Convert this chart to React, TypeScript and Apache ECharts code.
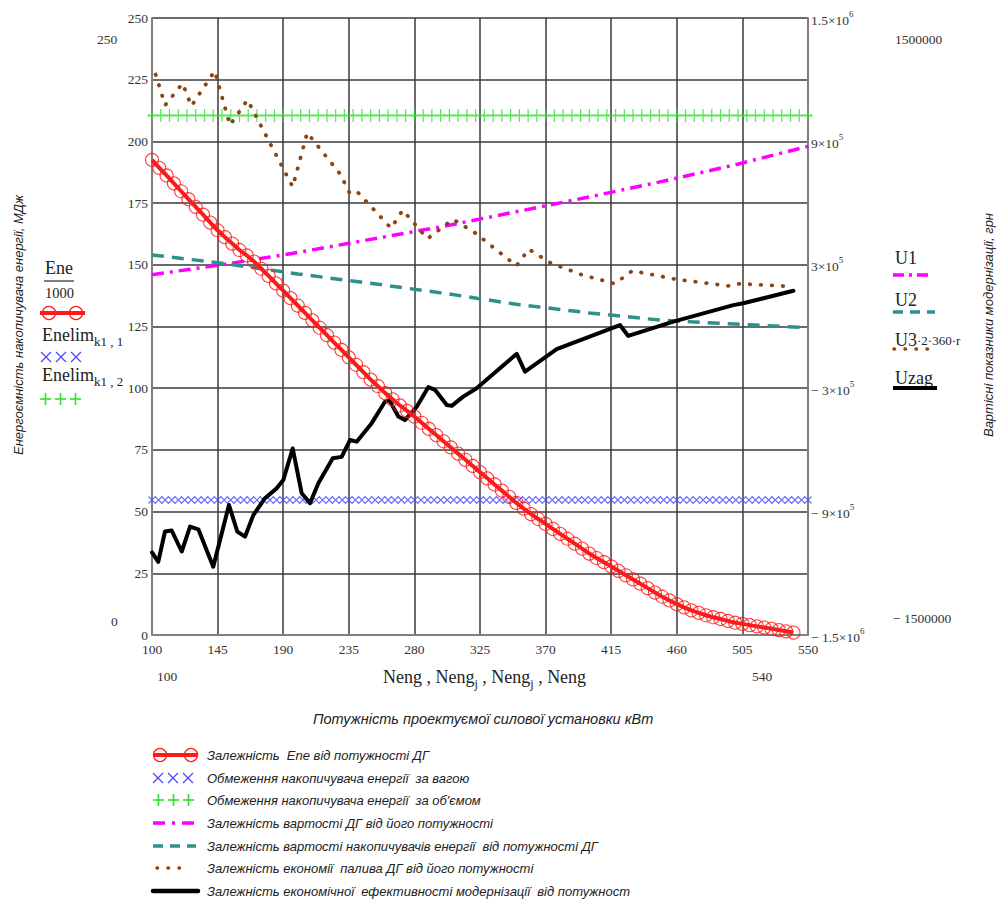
import React, { useEffect, useRef } from "react";
import * as echarts from "echarts";

// ---- data ----
// x axis: installed power of the diesel generator, kW
const xMin = 100;
const xMax = 550;
const xStep = 45;

// Ene/1000 (MJ) sampled every 5 kW from 100 to 540
const eneStartN = 100;
const eneStepN = 5;
const eneValues = [
  192.5, 189.3, 186.2, 183, 179.8, 176.6, 173.5, 170.3, 167.1, 164,
  161.2, 158.6, 156, 153.8, 151.3, 148.4, 145.5, 142.5, 139.5, 136.5,
  133.5, 130.5, 127.5, 124.5, 121.5, 118.5, 115.5, 112.5, 109.5, 106.5,
  103.5, 100.8, 98, 95.5, 93, 90.8, 88.5, 86, 83.5, 81,
  78.5, 76, 73.5, 71, 68.5, 66, 63.5, 61, 58.5, 56,
  53.5, 51.2, 49, 47, 45, 43, 41, 39, 37, 35,
  33, 31.2, 29.5, 27.8, 26, 24.2, 22.5, 20.8, 19, 17.2,
  15.5, 14, 12.5, 11.2, 10, 9, 8, 7.2, 6.5, 5.7,
  5, 4.5, 4, 3.5, 3, 2.5, 2, 1.5, 1,
];

// storage limits (MJ)
const enelimWeight = 54.7;
const enelimVolume = 210.5;
const weightMarkStepN = 4.5;
const volumeMarkStepN = 6;

// costs, UAH (right axis)
const uN = [100, 150, 200, 250, 300, 350, 400, 450, 500, 550];
const u1 = [252000, 302400, 360000, 423600, 487200, 558000, 630000, 705600, 786000, 876000];
const u2 = [348000, 306000, 255600, 210000, 162000, 108000, 66000, 30000, 12000, -6000];

const u3N = [102.5, 109, 121, 127, 143, 153.5, 165.5, 196.5, 206.5, 229, 236, 241.5, 264, 272, 289, 306.5, 321.5, 350, 358.5, 373, 395, 417.5, 429.5, 459, 496, 503, 540];
const u3 = [1225000, 1076000, 1182000, 1072000, 1242000, 979000, 1102000, 679000, 942000, 742000, 643000, 650000, 478000, 566000, 427000, 521000, 456000, 295000, 376000, 311000, 251000, 208000, 271000, 230000, 197000, 208000, 194000];

const uzagN = [100, 104.3, 108.9, 113.5, 120.4, 126.1, 131.8, 142, 152.8, 158.5, 163.8, 169.5, 177.5, 185.5, 190.1, 196.5, 202.7, 208.4, 214.1, 224, 230.1, 235.8, 240.4, 250.7, 259.8, 262.8, 269, 273.5, 281.6, 289.5, 294.1, 302.2, 305.6, 313.5, 322.7, 350.2, 355.9, 377.6, 421, 426.7, 457.6, 498.8, 505.6, 540];
const uzag = [-1098000, -1144000, -997000, -992000, -1094000, -973000, -986000, -1168000, -868000, -997000, -1022000, -917000, -835000, -787000, -746000, -593000, -811000, -859000, -762000, -641000, -634000, -552000, -560000, -470000, -366000, -358000, -438000, -455000, -390000, -295000, -308000, -382000, -386000, -341000, -300000, -133000, -220000, -110000, 7000, -46000, 24000, 104000, 113000, 174000];

const legendTexts = [
  "Залежність  Ene від потужності ДГ",
  "Обмеження накопичувача енергії  за вагою",
  "Обмеження накопичувача енергії  за об'ємом",
  "Залежність вартості ДГ від його потужності",
  "Залежність вартості накопичувачів енергії  від потужності ДГ",
  "Залежність економії  палива ДГ від його потужності",
  "Залежність економічної  ефективності модернізації  від потужност",
];

const serif = "'Liberation Serif','Times New Roman',serif";
const sans = "'Liberation Sans',Arial,sans-serif";

const C_RED = "#ff1a1a";
const C_BLUE = "#4b4bff";
const C_GREEN = "#2ee02e";
const C_MAG = "#ff00ff";
const C_TEAL = "#2f8f8a";
const C_BROWN = "#8a4512";
const C_BLACK = "#000000";

function supLabel(v: number): string {
  const sign = v < 0 ? "− " : "";
  const a = Math.abs(v);
  const e = Math.floor(Math.log10(a) + 1e-9);
  const m = Math.round((a / Math.pow(10, e)) * 100) / 100;
  return `{n|${sign}${m}×10}{s|${e}}`;
}

export default function App() {
  const ref = useRef<HTMLDivElement>(null);

  useEffect(() => {
    if (!ref.current) return;
    const chart = echarts.init(ref.current, null, { renderer: "svg" });

    const eneData = eneValues.map((v, i) => [eneStartN + i * eneStepN, v]);
    const marks = (step: number) =>
      Array.from({ length: Math.floor((xMax - xMin) / step + 1e-6) + 1 }, (_, i) => xMin + i * step);
    const lim1 = marks(weightMarkStepN).map((n) => [n, enelimWeight]);
    const lim2 = marks(volumeMarkStepN).map((n) => [n, enelimVolume]);
    const u1Data = uN.map((n, i) => [n, u1[i]]);
    const u2Data = uN.map((n, i) => [n, u2[i]]);
    const u3Data = u3N.map((n, i) => [n, u3[i]]);
    const uzagData = uzagN.map((n, i) => [n, uzag[i]]);

    const splitLine = { show: true, lineStyle: { color: "#3a3a3a", width: 1.5 } };
    const axisLine = { show: true, lineStyle: { color: "#808080", width: 2 } };

    const txt = (x: number, y: number, text: string, font: string, extra: any = {}) => ({
      type: "text",
      x,
      y,
      silent: true,
      style: { text, font, fill: "#222", textVerticalAlign: "middle", ...extra },
    });
    const seg = (x1: number, y1: number, x2: number, y2: number, stroke: string, lineWidth: number) => ({
      type: "line",
      silent: true,
      shape: { x1, y1, x2, y2 },
      style: { stroke, lineWidth },
    });
    const crosses = (x0: number, y: number, out: any[]) => {
      for (let k = 0; k < 3; k++) {
        const cx = x0 + 5 + k * 15;
        out.push(seg(cx - 5, y - 5, cx + 5, y + 5, C_BLUE, 1.3));
        out.push(seg(cx + 5, y - 5, cx - 5, y + 5, C_BLUE, 1.3));
      }
    };
    const pluses = (x0: number, y: number, out: any[]) => {
      for (let k = 0; k < 3; k++) {
        const cx = x0 + 5.5 + k * 15;
        out.push(seg(cx - 5.5, y, cx + 5.5, y, C_GREEN, 1.6));
        out.push(seg(cx, y - 6, cx, y + 6, C_GREEN, 1.6));
      }
    };

    const legendRowY = [755, 778, 800, 823, 846, 868, 891];
    const graphic: any[] = [];

    // Mathcad limit labels
    graphic.push(txt(97, 39, "250", `13.5px ${serif}`, { fill: "#333" }));
    graphic.push(txt(111, 621, "0", `13.5px ${serif}`, { fill: "#333" }));
    graphic.push(txt(157, 676, "100", `13.5px ${serif}`, { fill: "#333" }));
    graphic.push(txt(752, 676, "540", `13.5px ${serif}`, { fill: "#333" }));
    graphic.push(txt(895, 39, "1500000", `13.5px ${serif}`, { fill: "#333" }));
    graphic.push(txt(893, 618, "− 1500000", `13.5px ${serif}`, { fill: "#333" }));

    // axis titles
    graphic.push({
      type: "text",
      x: 18,
      y: 325,
      rotation: Math.PI / 2,
      silent: true,
      style: {
        text: "Енергоємність накопичувача енергії, МДж",
        font: `italic 13px ${sans}`,
        fill: "#222",
        textAlign: "center",
        textVerticalAlign: "middle",
      },
    });
    graphic.push({
      type: "text",
      x: 988,
      y: 325,
      rotation: Math.PI / 2,
      silent: true,
      style: {
        text: "Вартісні показники модернізації, грн",
        font: `italic 13px ${sans}`,
        fill: "#222",
        textAlign: "center",
        textVerticalAlign: "middle",
      },
    });
    graphic.push({
      type: "text",
      x: 383,
      y: 679,
      silent: true,
      style: {
        text: "{a|Neng , Neng}{j|j}{a| , Neng}{j|j}{a| , Neng}",
        rich: {
          a: { font: `18px ${serif}`, fill: "#222", verticalAlign: "top", lineHeight: 22 },
          j: { font: `12px ${serif}`, fill: "#222", verticalAlign: "bottom", lineHeight: 22 },
        },
        textVerticalAlign: "middle",
      },
    });
    graphic.push(
      txt(313, 719, "Потужність проектуємої силової установки кВт", `italic 14.5px ${sans}`)
    );

    // left legend
    graphic.push(txt(45, 268, "Ene", `18px ${serif}`));
    graphic.push(seg(44, 281, 74, 281, "#555", 1.5));
    graphic.push(txt(45, 293, "1000", `14.5px ${serif}`));
    graphic.push(seg(40, 313, 85, 313, C_RED, 4));
    graphic.push({ type: "circle", silent: true, shape: { cx: 49, cy: 313, r: 6.5 }, style: { fill: "none", stroke: C_RED, lineWidth: 1.3 } });
    graphic.push({ type: "circle", silent: true, shape: { cx: 76, cy: 313, r: 6.5 }, style: { fill: "none", stroke: C_RED, lineWidth: 1.3 } });
    const enelimRich = {
      a: { font: `18px ${serif}`, fill: "#222", verticalAlign: "top", lineHeight: 22 },
      s: { font: `13px ${serif}`, fill: "#222", verticalAlign: "bottom", lineHeight: 22 },
    };
    graphic.push({ type: "text", x: 42, y: 337, silent: true, style: { text: "{a|Enelim}{s|k1 , 1}", rich: enelimRich, textVerticalAlign: "middle" } });
    crosses(41, 357, graphic);
    graphic.push({ type: "text", x: 42, y: 377, silent: true, style: { text: "{a|Enelim}{s|k1 , 2}", rich: enelimRich, textVerticalAlign: "middle" } });
    pluses(40, 399, graphic);

    // right legend
    graphic.push(txt(895, 258, "U1", `18px ${serif}`));
    graphic.push({ type: "line", silent: true, shape: { x1: 893, y1: 275, x2: 931, y2: 275 }, style: { stroke: C_MAG, lineWidth: 3.5, lineDash: [11, 5, 3, 5] } });
    graphic.push(txt(895, 300, "U2", `18px ${serif}`));
    graphic.push({ type: "line", silent: true, shape: { x1: 893, y1: 312, x2: 935, y2: 312 }, style: { stroke: C_TEAL, lineWidth: 3.5, lineDash: [10, 7] } });
    graphic.push({
      type: "text",
      x: 895,
      y: 340,
      silent: true,
      style: {
        text: "{a|U3}{s|·2·360·r}",
        rich: {
          a: { font: `18px ${serif}`, fill: "#222" },
          s: { font: `13px ${serif}`, fill: "#222" },
        },
        textVerticalAlign: "middle",
      },
    });
    graphic.push({ type: "line", silent: true, shape: { x1: 894, y1: 349, x2: 930, y2: 349 }, style: { stroke: C_BROWN, lineWidth: 3.5, lineDash: [0.5, 10.5], lineCap: "round" } });
    graphic.push(txt(895, 378, "Uzag", `18px ${serif}`));
    graphic.push(seg(893, 388, 937, 388, C_BLACK, 4));

    // bottom legend
    const ly = legendRowY;
    graphic.push(seg(153, ly[0], 198, ly[0], C_RED, 4));
    graphic.push({ type: "circle", silent: true, shape: { cx: 160, cy: ly[0], r: 6.5 }, style: { fill: "none", stroke: C_RED, lineWidth: 1.3 } });
    graphic.push({ type: "circle", silent: true, shape: { cx: 191, cy: ly[0], r: 6.5 }, style: { fill: "none", stroke: C_RED, lineWidth: 1.3 } });
    crosses(153, ly[1], graphic);
    pluses(153, ly[2], graphic);
    graphic.push({ type: "line", silent: true, shape: { x1: 153, y1: ly[3], x2: 199, y2: ly[3] }, style: { stroke: C_MAG, lineWidth: 3.5, lineDash: [12, 7, 3, 7] } });
    graphic.push({ type: "line", silent: true, shape: { x1: 153, y1: ly[4], x2: 196, y2: ly[4] }, style: { stroke: C_TEAL, lineWidth: 3.5, lineDash: [10, 7] } });
    graphic.push({ type: "line", silent: true, shape: { x1: 157, y1: ly[5], x2: 190, y2: ly[5] }, style: { stroke: C_BROWN, lineWidth: 3.5, lineDash: [0.5, 10.5], lineCap: "round" } });
    graphic.push({ type: "line", silent: true, shape: { x1: 153, y1: ly[6], x2: 198, y2: ly[6] }, style: { stroke: C_BLACK, lineWidth: 4.5, lineCap: "round" } });
    legendTexts.forEach((t, i) => {
      graphic.push(txt(207, ly[i], t, `italic 13px ${sans}`));
    });

    const option: any = {
      animation: false,
      grid: { left: 152, top: 18, right: 191, bottom: 267, show: false },
      xAxis: {
        type: "value",
        min: xMin,
        max: xMax,
        interval: xStep,
        axisLine,
        axisTick: { show: false },
        splitLine,
        axisLabel: { color: "#333", fontFamily: serif, fontSize: 13.5, margin: 7 },
      },
      yAxis: [
        {
          type: "value",
          min: 0,
          max: 250,
          interval: 25,
          position: "left",
          axisLine,
          axisTick: { show: false },
          splitLine,
          axisLabel: { color: "#333", fontFamily: serif, fontSize: 13.5, margin: 4 },
        },
        {
          type: "value",
          min: -1500000,
          max: 1500000,
          interval: 600000,
          position: "right",
          axisLine,
          axisTick: { show: false },
          splitLine: { show: false },
          axisLabel: {
            margin: 3,
            formatter: (v: number) => supLabel(v),
            rich: {
              n: { color: "#333", fontFamily: serif, fontSize: 13.5, lineHeight: 18, verticalAlign: "bottom" },
              s: { color: "#333", fontFamily: serif, fontSize: 9, lineHeight: 18, verticalAlign: "top" },
            },
          },
        },
      ],
      series: [
        {
          name: "Enelim1",
          type: "scatter",
          silent: true,
          yAxisIndex: 0,
          data: lim1,
          symbol: "path://M0,0L10,10M10,0L0,10",
          symbolSize: 7,
          itemStyle: { color: "rgba(0,0,0,0)", borderColor: C_BLUE, borderWidth: 1.1 },
          z: 3,
        },
        {
          name: "Enelim2",
          type: "scatter",
          silent: true,
          yAxisIndex: 0,
          data: lim2,
          symbol: "path://M0,5L10,5M5,0L5,10",
          symbolSize: [9, 13],
          itemStyle: { color: "rgba(0,0,0,0)", borderColor: C_GREEN, borderWidth: 1.5 },
          z: 3,
        },
        {
          name: "U1",
          type: "line",
          silent: true,
          yAxisIndex: 1,
          data: u1Data,
          showSymbol: false,
          lineStyle: { color: C_MAG, width: 3.5, type: [12, 6, 3, 6] },
          z: 4,
        },
        {
          name: "U2",
          type: "line",
          silent: true,
          yAxisIndex: 1,
          data: u2Data,
          showSymbol: false,
          lineStyle: { color: C_TEAL, width: 3.5, type: [12, 8] },
          z: 4,
        },
        {
          name: "U3",
          type: "line",
          silent: true,
          yAxisIndex: 1,
          data: u3Data,
          showSymbol: false,
          lineStyle: { color: C_BROWN, width: 3.8, type: [0.5, 10.5], cap: "round" },
          z: 4,
        },
        {
          name: "Uzag",
          type: "line",
          silent: true,
          yAxisIndex: 1,
          data: uzagData,
          showSymbol: false,
          lineStyle: { color: C_BLACK, width: 4, join: "round", cap: "round" },
          z: 5,
        },
        {
          name: "Ene",
          type: "line",
          silent: true,
          yAxisIndex: 0,
          data: eneData,
          symbol: "circle",
          symbolSize: 13,
          showSymbol: true,
          showAllSymbol: true,
          lineStyle: { color: C_RED, width: 4 },
          itemStyle: { color: "rgba(0,0,0,0)", borderColor: C_RED, borderWidth: 1.1, opacity: 0.85 },
          z: 6,
        },
      ],
      graphic,
    };

    chart.setOption(option);
    return () => chart.dispose();
  }, []);

  return (
    <div
      ref={ref}
      style={{ position: "absolute", left: 0, top: 0, width: 999, height: 902, background: "#fff" }}
    />
  );
}
